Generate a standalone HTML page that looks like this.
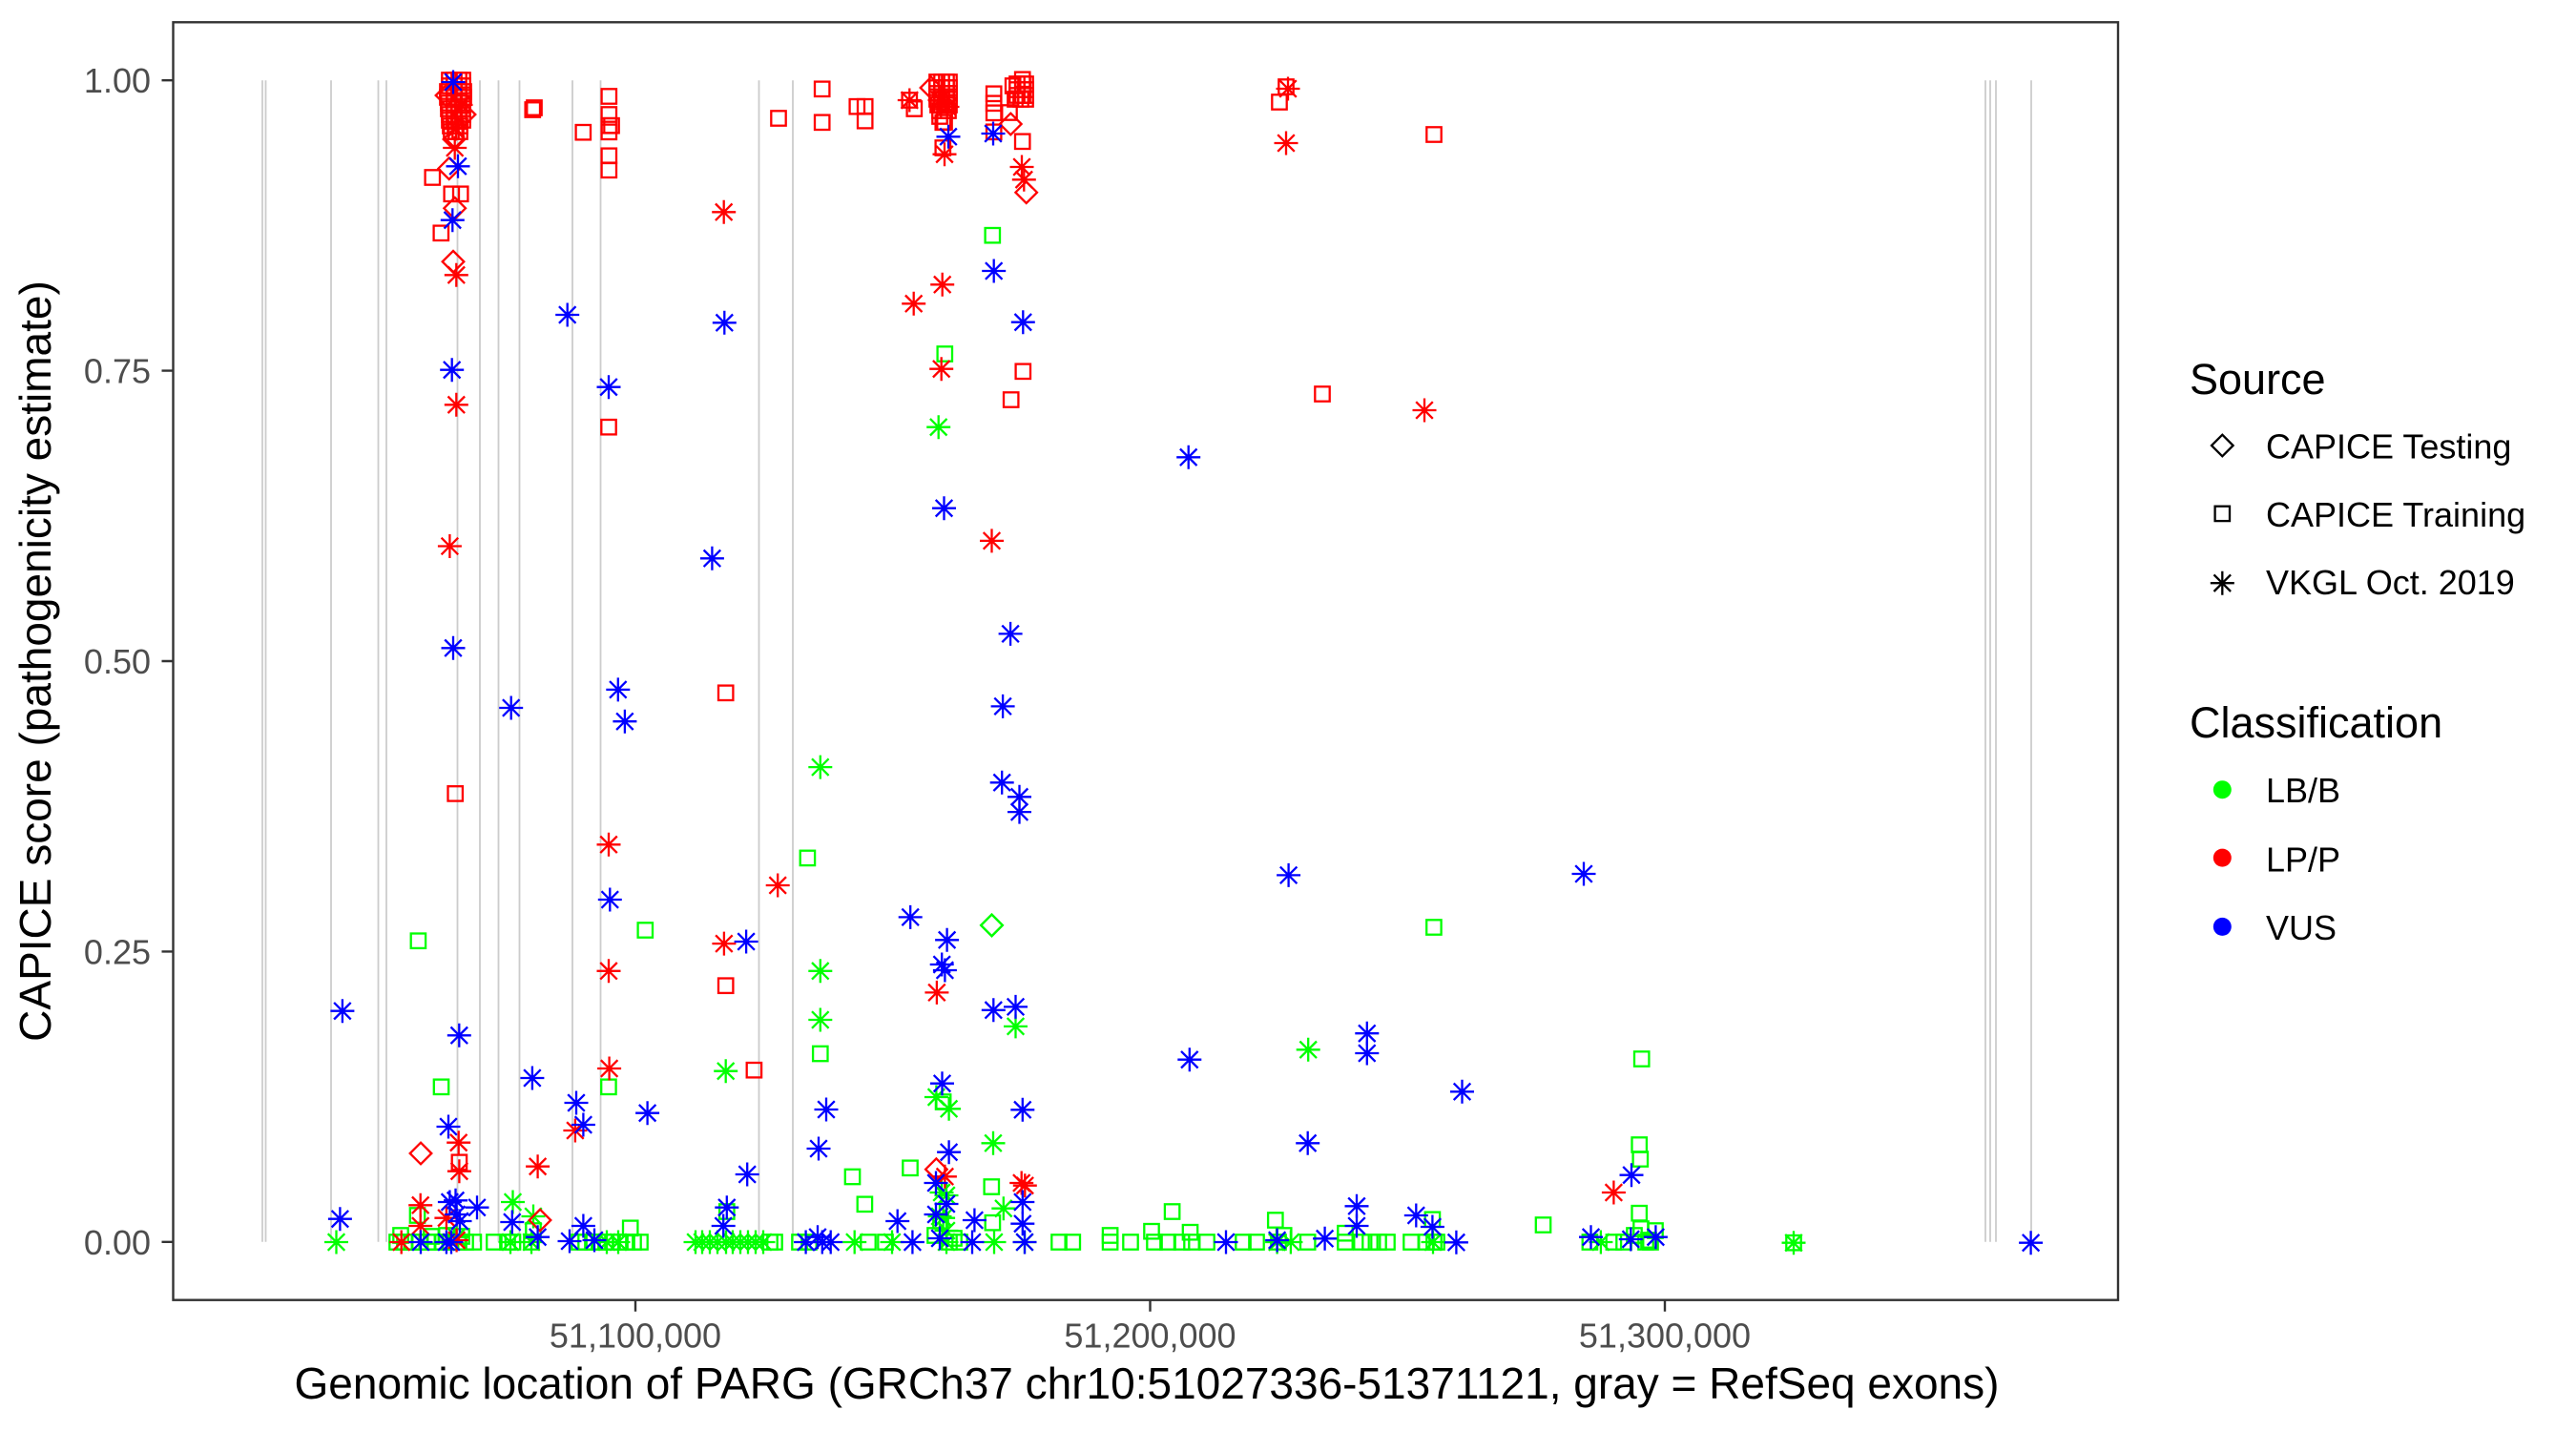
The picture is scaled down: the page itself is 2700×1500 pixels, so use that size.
<!DOCTYPE html>
<html><head><meta charset="utf-8"><style>html,body{margin:0;padding:0;background:#fff;}svg{display:block;}</style></head>
<body>
<svg width="2700" height="1500" viewBox="0 0 2700 1500">
<defs>
<marker id="gs" markerUnits="userSpaceOnUse" viewBox="-15 -15 30 30" markerWidth="30" markerHeight="30" refX="0" refY="0" overflow="visible"><rect x="-7.7" y="-7.7" width="15.4" height="15.4" fill="none" stroke="#00ff00" stroke-width="2.3"/></marker>
<marker id="rs" markerUnits="userSpaceOnUse" viewBox="-15 -15 30 30" markerWidth="30" markerHeight="30" refX="0" refY="0" overflow="visible"><rect x="-7.7" y="-7.7" width="15.4" height="15.4" fill="none" stroke="#ff0000" stroke-width="2.3"/></marker>
<marker id="gd" markerUnits="userSpaceOnUse" viewBox="-15 -15 30 30" markerWidth="30" markerHeight="30" refX="0" refY="0" overflow="visible"><path d="M0-11.3L11.3 0L0 11.3L-11.3 0Z" fill="none" stroke="#00ff00" stroke-width="2.3"/></marker>
<marker id="rd" markerUnits="userSpaceOnUse" viewBox="-15 -15 30 30" markerWidth="30" markerHeight="30" refX="0" refY="0" overflow="visible"><path d="M0-11.3L11.3 0L0 11.3L-11.3 0Z" fill="none" stroke="#ff0000" stroke-width="2.3"/></marker>
<marker id="ga" markerUnits="userSpaceOnUse" viewBox="-15 -15 30 30" markerWidth="30" markerHeight="30" refX="0" refY="0" overflow="visible"><path d="M-12.5 0H12.5M0-12.5V12.5M-8.8-8.8L8.8 8.8M-8.8 8.8L8.8-8.8" fill="none" stroke="#00ff00" stroke-width="2.3"/></marker>
<marker id="ra" markerUnits="userSpaceOnUse" viewBox="-15 -15 30 30" markerWidth="30" markerHeight="30" refX="0" refY="0" overflow="visible"><path d="M-12.5 0H12.5M0-12.5V12.5M-8.8-8.8L8.8 8.8M-8.8 8.8L8.8-8.8" fill="none" stroke="#ff0000" stroke-width="2.3"/></marker>
<marker id="ba" markerUnits="userSpaceOnUse" viewBox="-15 -15 30 30" markerWidth="30" markerHeight="30" refX="0" refY="0" overflow="visible"><path d="M-12.5 0H12.5M0-12.5V12.5M-8.8-8.8L8.8 8.8M-8.8 8.8L8.8-8.8" fill="none" stroke="#0000ff" stroke-width="2.3"/></marker>
</defs>

<rect x="0" y="0" width="2700" height="1500" fill="#ffffff"/>

<!-- exon lines -->
<path d="M275 84.2V1301.8M278.5 84.2V1301.8M347 84.2V1301.8M396.5 84.2V1301.8M405 84.2V1301.8M479.5 84.2V1301.8M503 84.2V1301.8M522.5 84.2V1301.8M544.5 84.2V1301.8M600 84.2V1301.8M629.5 84.2V1301.8M795.5 84.2V1301.8M831 84.2V1301.8M2081 84.2V1301.8M2086 84.2V1301.8M2092 84.2V1301.8M2129 84.2V1301.8" stroke="#cccccc" stroke-width="1.8" fill="none"/>

<!-- green squares -->
<polyline fill="none" stroke="none" marker-start="url(#gs)" marker-mid="url(#gs)" marker-end="url(#gs)" points="438.4,986.2 676.3,975 846.4,899.4 859.8,1104.5 462.5,1139.3 637.9,1139.3 437.5,1274 559,1290 660.7,1287.3 761.8,1270 893.5,1233.5 906.4,1262.3 954,1224.3 988.6,1155 1039.3,1244 1040.4,1281.7 1040.3,246.7 990.3,371 1502.9,972 1228.6,1270 1207,1290.7 1163.6,1295 1247.5,1291.7 1336.8,1279 1345.7,1295 1410,1292.7 1501.4,1278.3 1617.5,1284 1720.7,1110 1718.2,1200 1719.3,1215 1718.2,1271.7 1880,1302.7 986,1280 980,1295 1000,1298 1713,1295 1720,1288 1728,1300 1735,1290 1730,1302 420,1295 452,1296 468,1295 484,1296 416,1302 424,1302 432,1302 440,1302 448,1302 456,1302 464,1302 472,1302 480,1302 488,1302 496.4,1302 517.9,1302 532,1302 537.5,1302 557,1302 607,1302 614,1302 621,1302 628,1302 635,1302 642,1302 650,1302 657,1302 664,1302 671,1302 807,1302 812,1302 838,1302 848,1302 910,1302 928,1302 995,1302 1006,1302 1110,1302 1124.3,1302 1163.6,1302 1185,1302 1210,1302 1224,1302 1238.6,1302 1249,1302 1265,1302 1303,1302 1317,1302 1340,1302 1370.7,1302 1410,1302 1427,1302 1436,1302 1445,1302 1454,1302 1479,1302 1495,1302 1503,1302 1506,1302 1666.4,1302 1691.4,1302 1702,1302 1725,1302"/>
<!-- green diamond -->
<polyline fill="none" stroke="none" marker-start="url(#gd)" marker-mid="url(#gd)" marker-end="url(#gd)" points="1039.5,969.9 1039.5,969.9"/>
<!-- green asterisks -->
<polyline fill="none" stroke="none" marker-start="url(#ga)" marker-mid="url(#ga)" marker-end="url(#ga)" points="859.8,804.1 859.8,1017.8 859.8,1069 983.7,447.7 1064.5,1075.9 981.4,1150 994.6,1162.3 1041,1198.3 1051.8,1266.7 537.5,1260 559,1275 760.7,1122.7 1371.2,1100.3 478.6,1296.7 352.5,1302 987,1250 992,1253 988.6,1276.7 985,1275 992,1290 535,1302 557,1302 636,1302 648,1302 729,1302 736,1302 744,1302 752,1302 761,1302 768,1302 776,1302 784,1302 792,1302 800,1302 895.7,1302 935,1302 992,1302 1042,1302 1074,1302 1338.6,1302 1352.9,1302 1502,1302 1677.9,1302 1880,1302.7"/>
<!-- red squares -->
<polyline fill="none" stroke="none" marker-start="url(#rs)" marker-mid="url(#rs)" marker-end="url(#rs)" points="471,84 476,84 481,84 485,84 471,90 476,90 481,90 485,90 469,96 476,96 481,96 486,96 469,102 476,102 481,102 486,102 470,108 476,108 481,108 485,108 470,114 476,114 481,114 485,114 471,120 476,120 481,120 485,120 471,126 476,126 481,126 485,126 472,132 477,132 482,132 473,138 478,138 482,138 453.3,186 473.3,203.3 482.7,203.3 462.3,244.3 477.2,831.9 481.4,1218.3 558.3,115 560,113 611.3,138.7 638.3,101 638.3,120 638.3,131.7 641,131.7 638.3,138.3 638.3,163.3 638.3,178.3 638,447.7 760.7,726.3 760.7,1033.2 790.4,1121.7 816,124 861.7,93.3 861.7,128.3 898.3,111.7 906.7,111.7 906.7,126.7 953.3,105 958.3,114 982,86 987,86 992,86 995,86 982,92 987,92 992,92 995,92 982,98 987,98 992,98 995,98 982,104 987,104 992,104 995,104 983,110 987,110 992,110 995,110 985,116 990,116 994,116 985,122 990,128 988.3,128.3 988.3,155 1041.7,98.3 1041.7,108.3 1041.7,118.3 1041.7,138.3 1058,118 1061.7,90 1071.7,83.3 1066,88 1072,88 1075,88 1066,94 1072,94 1075,94 1066,100 1072,100 1075,100 1064,104 1070,104 1075,104 1071.7,148.3 1072.3,389.3 1059.7,419 1341,107 1348,91 1503,141 1386,413"/>
<!-- red diamonds -->
<polyline fill="none" stroke="none" marker-start="url(#rd)" marker-mid="url(#rd)" marker-end="url(#rd)" points="468,100 487,120 476,146 976,92 470.7,176.7 476.7,218.3 475,274.3 441,1209 566,1279 981.4,1225.7 1059.3,130 1075.7,201.7"/>
<!-- red asterisks -->
<polyline fill="none" stroke="none" marker-start="url(#ra)" marker-mid="url(#ra)" marker-end="url(#ra)" points="478,135 483,110 985,105 993,112 476.7,155 478.3,288.3 478.3,424.3 471.4,572.5 638,885.3 638,1017.8 638.6,1120 758.7,222.3 815.2,928 758.9,989.1 480.7,1197.7 481.4,1227.7 440.7,1263.3 440.7,1285 420.7,1302 467.9,1276.7 478.6,1300 563.6,1222.7 602.9,1185 990.4,1233.3 1070.7,1240 1074.3,1242.7 981.9,1040.4 1039.5,566.9 987.7,298.3 957.7,318.3 986.7,386.7 990,161.7 953.3,105 1071,175 1073.3,188.3 1350,93 1348,150 1493,430 1691.4,1250"/>
<!-- blue asterisks -->
<polyline fill="none" stroke="none" marker-start="url(#ba)" marker-mid="url(#ba)" marker-end="url(#ba)" points="475,86 480,174.3 474.3,230.7 473.7,387.7 475,679.3 481.3,1085.3 594.7,330 759.3,338.3 638,405.7 746.4,585.3 535.7,742 647.8,722.9 654.9,756.2 639.3,943 782.1,987 358.9,1059.7 356.4,1277.7 470,1181 471.4,1260 477.5,1258.3 478.6,1273 482,1280 500,1265.7 441,1302 467.9,1302 473,1302 536.8,1281 563.6,1296.7 557.9,1130 604,1156 611.4,1179 678.6,1166.7 611.4,1285 597,1301 623,1300 783.2,1231 761.8,1265.7 758.2,1285 844.6,1302 857,1296.7 858,1204 866,1163 987.5,1135.7 1071.8,1163.3 994.6,1207.7 1071.8,1260 940.7,1280 1021.4,1279 1071.8,1282.7 981,1240 992,1262 981,1273 861.8,1302 870.7,1302 956.4,1302 1019,1302 1074,1302 1285,1302 1338.6,1300 1388.6,1298.3 985,1298 1246.8,1110.7 1370.7,1198.3 1422,1264.3 1422,1285 1432.8,1083.2 1432.8,1104 1532.5,1144.3 1710,1231.7 1484.3,1274 1501.4,1286 1526.4,1302.3 1667.5,1296.7 1709.3,1299 1735.4,1296.7 2128.6,1302.7 1245.7,479.3 989.5,532.7 1059.1,664.4 1051.1,740.4 1050.2,820.3 1068.5,835.3 1068.5,851.1 1350.6,917.4 954.2,961.4 992.6,985.3 987.2,1011 990.4,1017 1041.3,1058.8 1064.5,1055.4 994,143.3 1041,140 1041.7,284 1072.3,337.7 1660,916"/>

<!-- panel border -->
<rect x="181.5" y="23.3" width="2038.5" height="1339.4" fill="none" stroke="#333333" stroke-width="2.4"/>

<!-- ticks -->
<path d="M169.5 84.2H181.5M169.5 388.6H181.5M169.5 693H181.5M169.5 997.4H181.5M169.5 1301.8H181.5M666 1362.7V1374.7M1205.5 1362.7V1374.7M1745 1362.7V1374.7" stroke="#333333" stroke-width="2.4" fill="none"/>

<g font-family="'Liberation Sans', Arial, sans-serif" font-size="36" fill="#4d4d4d">
<text x="158" y="97.2" text-anchor="end">1.00</text>
<text x="158" y="401.6" text-anchor="end">0.75</text>
<text x="158" y="706" text-anchor="end">0.50</text>
<text x="158" y="1010.4" text-anchor="end">0.25</text>
<text x="158" y="1314.8" text-anchor="end">0.00</text>
<text x="666" y="1412.5" text-anchor="middle">51,100,000</text>
<text x="1205.5" y="1412.5" text-anchor="middle">51,200,000</text>
<text x="1745" y="1412.5" text-anchor="middle">51,300,000</text>
</g>

<g font-family="'Liberation Sans', Arial, sans-serif" font-size="46" fill="#000000">
<text x="1202" y="1466" text-anchor="middle">Genomic location of PARG (GRCh37 chr10:51027336-51371121, gray = RefSeq exons)</text>
<text transform="translate(53,693) rotate(-90)" text-anchor="middle">CAPICE score (pathogenicity estimate)</text>
</g>
<g font-family="'Liberation Sans', Arial, sans-serif" font-size="45" fill="#000000">
<text x="2295" y="413">Source</text>
<text x="2295" y="773.2">Classification</text>
</g>

<!-- legend keys -->
<path d="M2329.3 455.7L2340.6 467L2329.3 478.3L2318 467Z" fill="none" stroke="#000" stroke-width="2.3"/>
<rect x="2321.6" y="530.7" width="15.4" height="15.4" fill="none" stroke="#000" stroke-width="2.3"/>
<path d="M2316.8 611.2H2341.8M2329.3 598.7V623.7M2320.5 602.4L2338.1 620M2320.5 620L2338.1 602.4" fill="none" stroke="#000" stroke-width="2.3"/>
<circle cx="2329.3" cy="827.7" r="9.5" fill="#00ff00"/>
<circle cx="2329.3" cy="899.1" r="9.5" fill="#ff0000"/>
<circle cx="2329.3" cy="971.4" r="9.5" fill="#0000ff"/>

<g font-family="'Liberation Sans', Arial, sans-serif" font-size="36" fill="#000000">
<text x="2375" y="480.4">CAPICE Testing</text>
<text x="2375" y="551.8">CAPICE Training</text>
<text x="2375" y="623.2">VKGL Oct. 2019</text>
<text x="2375" y="841">LB/B</text>
<text x="2375" y="913.4">LP/P</text>
<text x="2375" y="984.8">VUS</text>
</g>
</svg>
</body></html>
